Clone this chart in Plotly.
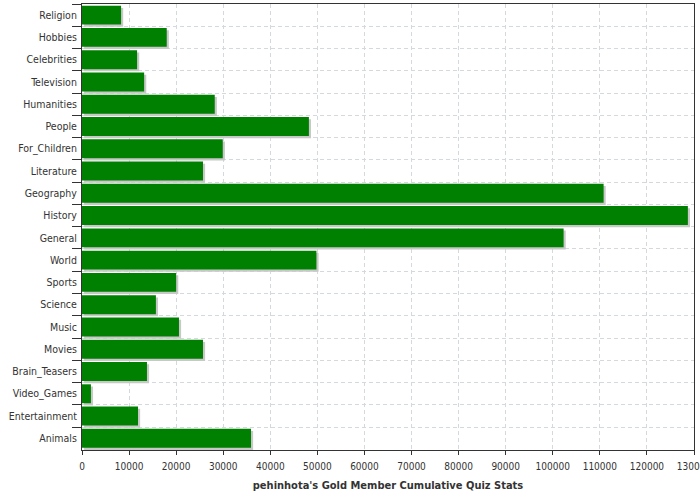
import plotly.graph_objects as go

categories = ["Religion", "Hobbies", "Celebrities", "Television", "Humanities", "People",
              "For_Children", "Literature", "Geography", "History", "General", "World",
              "Sports", "Science", "Music", "Movies", "Brain_Teasers", "Video_Games",
              "Entertainment", "Animals"]
values = [8300, 18000, 11700, 13200, 28200, 48200, 29900, 25700, 110800, 128700,
          102300, 49800, 20000, 15700, 20600, 25700, 13800, 1900, 11900, 35900]
x_title = "pehinhota's Gold Member Cumulative Quiz Stats"

FONT = "DejaVu Sans Condensed, DejaVu Sans, sans-serif"
bar_w = 0.85
shadow_dx = 450     # shadow shift along value axis (data units ~2px)
shadow_dy = 0.1     # shadow shift along category axis

fig = go.Figure()
fig.add_trace(go.Bar(
    y=categories, x=values, orientation="h",
    base=shadow_dx, width=bar_w, offset=-bar_w / 2 + shadow_dy,
    marker=dict(color="#c8c8c8", line=dict(width=0)),
    hoverinfo="skip", showlegend=False,
))
fig.add_trace(go.Bar(
    y=categories, x=values, orientation="h",
    width=bar_w, offset=-bar_w / 2,
    marker=dict(color="#008000", line=dict(width=0)),
    showlegend=False,
))

fig.update_layout(
    width=700, height=500,
    margin=dict(l=82, r=6, t=4, b=50),
    paper_bgcolor="white", plot_bgcolor="white",
    barmode="overlay",
    font=dict(family=FONT, size=11, color="#333333"),
    xaxis=dict(
        range=[0, 130000], dtick=10000, tick0=0, tickformat="d",
        showgrid=True, gridcolor="#d4d9de", gridwidth=1, griddash="4px,3px",
        showline=True, linecolor="#333333", linewidth=1, mirror=True,
        ticks="outside", ticklen=4, tickcolor="#333333",
        tickfont=dict(family=FONT, size=10, color="#333333"),
        ticklabelstandoff=3, ticklabeloverflow="allow",
        title=dict(text="<b>" + x_title + "</b>", standoff=10,
                   font=dict(family=FONT, size=11, color="#333333")),
        zeroline=False, automargin=False,
    ),
    yaxis=dict(
        type="category", categoryorder="array", categoryarray=categories,
        autorange="reversed", tickson="boundaries",
        showgrid=True, gridcolor="#d4d9de", gridwidth=1, griddash="4px,3px",
        showline=True, linecolor="#333333", linewidth=1, mirror=True,
        ticks="outside", ticklen=9, tickcolor="#333333",
        tickfont=dict(family=FONT, size=10.5, color="#333333"),
        ticklabelstandoff=2,
        zeroline=False, automargin=False,
    ),
)

fig.write_html("out.html", config={"displayModeBar": False},
               post_script="document.body.style.margin='0';document.body.style.padding='0';")
